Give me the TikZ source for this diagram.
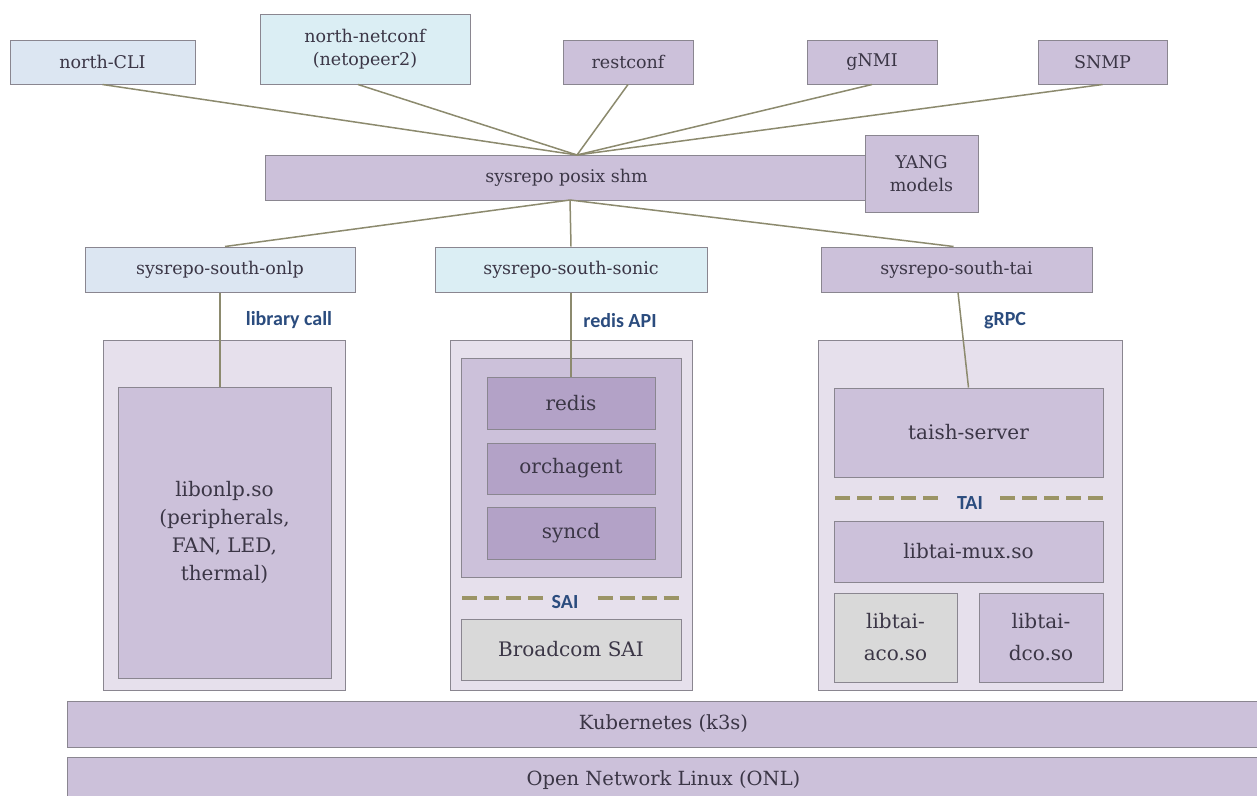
\documentclass[tikz,border=0pt]{standalone}
\usepackage{fontspec}
\setmainfont{DejaVu Serif}
\newfontfamily\lblfont{Carlito}
\definecolor{cLB}{HTML}{DCE6F2}
\definecolor{cLC}{HTML}{DBEEF4}
\definecolor{cLV}{HTML}{CCC1DA}
\definecolor{cCT}{HTML}{E6E0EC}
\definecolor{cDK}{HTML}{B3A2C7}
\definecolor{cGR}{HTML}{D9D9D9}
\definecolor{cBD}{HTML}{8A8690}
\definecolor{cTX}{HTML}{3B3646}
\definecolor{cLN}{HTML}{8C8A6E}
\definecolor{cBL}{HTML}{2B4C7E}
\definecolor{cDS}{HTML}{9B9466}
\tikzset{
  box/.style={draw=cBD, line width=1pt, inner sep=0pt, align=center, text=cTX, font=\fontsize{17.5}{23}\selectfont},
  bigbox/.style={box, font=\fontsize{20}{28}\selectfont},
  conn/.style={draw=cLN, line width=1.5pt},
  lbl/.style={text=cBL, font=\lblfont\bfseries\fontsize{20}{24}\selectfont, inner sep=1pt},
  sep/.style={draw=cDS, line width=3.5pt, dash pattern=on 15pt off 7pt}
}
\begin{document}
\begin{tikzpicture}[x=1pt,y=-1pt]
\clip (0,0) rectangle (1257,795);
\useasboundingbox (0,0) rectangle (1257,795);
\fill[white] (0,0) rectangle (1257,795);
% north
\node[box, fill=cLB, minimum width=185, minimum height=44] (ncli) at (102.5,62) {north-CLI};
\node[box, fill=cLC, minimum width=210, minimum height=70] (nnet) at (365,49) {north-netconf\\(netopeer2)};
\node[box, fill=cLV, minimum width=130, minimum height=44] (rest) at (628,62) {restconf};
\node[box, fill=cLV, minimum width=130, minimum height=44] (gnmi) at (872,62) {gNMI};
\node[box, fill=cLV, minimum width=129, minimum height=44] (snmp) at (1102.5,62) {SNMP};
% sysrepo
\node[box, fill=cLV, minimum width=603, minimum height=45] (shm) at (566.5,177.5) {sysrepo posix shm};
\node[box, fill=cLV, minimum width=113, minimum height=77] (yang) at (921.5,173.5) {YANG\\models};
\coordinate (hubT) at (577,155);
\coordinate (hubB) at (570,200);
% south
\node[box, fill=cLB, minimum width=270, minimum height=45] (sonlp) at (220,269.5) {sysrepo-south-onlp};
\node[box, fill=cLC, minimum width=272, minimum height=45] (ssonic) at (571,269.5) {sysrepo-south-sonic};
\node[box, fill=cLV, minimum width=271, minimum height=45] (stai) at (956.5,269.5) {sysrepo-south-tai};
\node[lbl] (lcall) at (289,320) {library call};
\node[lbl] (rapi) at (620,321) {redis API};
\node[lbl] (grpc) at (1005,321) {gRPC};
% containers
\node[box, fill=cCT, minimum width=242, minimum height=350] (c1) at (224,515) {};
\node[box, fill=cCT, minimum width=242, minimum height=350] (c2) at (571,515) {};
\node[box, fill=cCT, minimum width=304, minimum height=350] (c3) at (970,515) {};
% left
\node[bigbox, fill=cLV, minimum width=213, minimum height=291] (libonlp) at (224.5,532.5) {libonlp.so\\(peripherals,\\FAN, LED,\\thermal)};
% middle
\node[box, fill=cLV, minimum width=220, minimum height=219] (inner) at (571,467.5) {};
\node[bigbox, fill=cDK, minimum width=168, minimum height=52] (redis) at (571,403) {redis};
\node[bigbox, fill=cDK, minimum width=168, minimum height=51] (orch) at (571,468.5) {orchagent};
\node[bigbox, fill=cDK, minimum width=168, minimum height=52] (syncd) at (571,533) {syncd};
\coordinate (saiL) at (462,598);
\coordinate (saiR) at (681,598);
\node[lbl] (sai) at (565,602) {SAI};
\draw[sep] (saiL) -- ([xshift=-4pt]sai.west |- saiL);
\draw[sep] ([xshift=18pt]sai.east |- saiR) -- (saiR);
\node[bigbox, fill=cGR, minimum width=220, minimum height=61] (bcm) at (571,649.5) {Broadcom SAI};
% right
\node[bigbox, fill=cLV, minimum width=269, minimum height=89] (taish) at (968.5,432.5) {taish-server};
\coordinate (taiL) at (835,498);
\coordinate (taiR) at (1103,498);
\node[lbl] (tai) at (970,503) {TAI};
\draw[sep] (taiL) -- ([xshift=-12pt]tai.west |- taiL);
\draw[sep] ([xshift=16pt]tai.east |- taiR) -- (taiR);
\node[bigbox, fill=cLV, minimum width=269, minimum height=61] (mux) at (968.5,551.5) {libtai-mux.so};
\node[bigbox, fill=cGR, minimum width=123, minimum height=89, font=\fontsize{20}{32}\selectfont] (aco) at (895.5,637.5) {libtai-\\aco.so};
\node[bigbox, fill=cLV, minimum width=124, minimum height=89, font=\fontsize{20}{32}\selectfont] (dco) at (1041,637.5) {libtai-\\dco.so};
% bottom
\node[box, fill=cLV, minimum width=1193, minimum height=46, font=\fontsize{19.5}{24}\selectfont] (k8s) at (663.5,724) {Kubernetes (k3s)};
\node[box, fill=cLV, minimum width=1193, minimum height=46, font=\fontsize{19.5}{24}\selectfont] (onl) at (663.5,780) {Open Network Linux (ONL)};
% connectors
\draw[conn] (ncli.south) -- (hubT);
\draw[conn] ([xshift=-7pt]nnet.south) -- (hubT);
\draw[conn] (rest.south) -- (hubT);
\draw[conn] (gnmi.south) -- (hubT);
\draw[conn] (snmp.south) -- (hubT);
\draw[conn] (hubB) -- ([xshift=5pt]sonlp.north);
\draw[conn] (hubB) -- (ssonic.north);
\draw[conn] (hubB) -- ([xshift=-3pt]stai.north);
\draw[conn] (sonlp.south) -- (sonlp.south |- libonlp.north);
\draw[conn] (ssonic.south) -- (redis.north);
\draw[conn] ([xshift=1.5pt]stai.south) -- (taish.north);
\end{tikzpicture}
\end{document}
